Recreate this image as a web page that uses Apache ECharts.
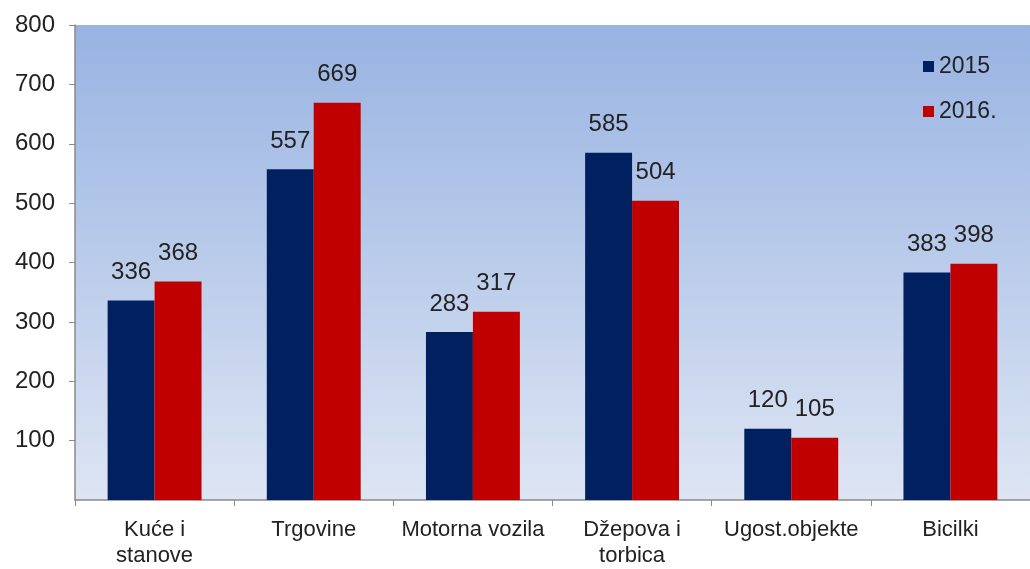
<!DOCTYPE html>
<html>
<head>
<meta charset="utf-8">
<script src="https://cdn.jsdelivr.net/npm/echarts@6/dist/echarts.min.js"></script>
<style>
  html, body { margin: 0; padding: 0; background: #fff; }
  #chart { width: 1030px; height: 569px; }
</style>
</head>
<body>
<div id="chart"></div>
<script>
var categories = ['Kuće i\nstanove', 'Trgovine', 'Motorna vozila', 'Džepova i\ntorbica', 'Ugost.objekte', 'Bicilki'];
var values2015 = [336, 557, 283, 585, 120, 383];
var values2016 = [368, 669, 317, 504, 105, 398];
var seriesNames = ['2015', '2016.'];

var chart = echarts.init(document.getElementById('chart'));

// zajednički stil oznaka iznad stupaca
var barLabel = {
  show: true,
  position: 'top',
  distance: 16,
  color: '#222',
  fontFamily: 'Liberation Sans, Arial, sans-serif',
  fontSize: 24
};

var option = {
  animation: false,
  textStyle: { fontFamily: 'Liberation Sans, Arial, sans-serif' },
  grid: {
    left: 75,
    right: 0,
    top: 25,
    bottom: 68,
    show: true,
    borderWidth: 0,
    backgroundColor: new echarts.graphic.LinearGradient(0, 0, 0, 1, [
      { offset: 0, color: '#98b3e2' },
      { offset: 1, color: '#dde5f3' }
    ])
  },
  legend: {
    orient: 'vertical',
    left: 918,
    top: 50,
    itemWidth: 11,
    itemHeight: 11,
    itemGap: 22,
    icon: 'rect',
    data: seriesNames,
    textStyle: { color: '#222', fontSize: 23 }
  },
  xAxis: {
    type: 'category',
    data: categories,
    axisLine: { lineStyle: { color: '#8a8a8a', width: 1.5 } },
    axisTick: { show: true, length: 6, lineStyle: { color: '#8a8a8a' } },
    axisLabel: { color: '#222', fontSize: 22, lineHeight: 26, margin: 17, interval: 0 }
  },
  yAxis: {
    type: 'value',
    min: 0,
    max: 800,
    interval: 100,
    splitLine: { show: false },
    axisLine: { show: true, lineStyle: { color: '#8a8a8a', width: 1.5 } },
    axisTick: { show: true, length: 6, lineStyle: { color: '#8a8a8a' } },
    axisLabel: { color: '#222', fontSize: 24, margin: 20, showMinLabel: false }
  },
  series: [
    {
      name: seriesNames[0],
      type: 'bar',
      data: values2015,
      barGap: '0%',
      barCategoryGap: '41%',
      itemStyle: { color: '#002060' },
      label: barLabel
    },
    {
      name: seriesNames[1],
      type: 'bar',
      data: values2016,
      itemStyle: { color: '#c00000' },
      label: barLabel
    }
  ]
};

chart.setOption(option);
</script>
</body>
</html>
